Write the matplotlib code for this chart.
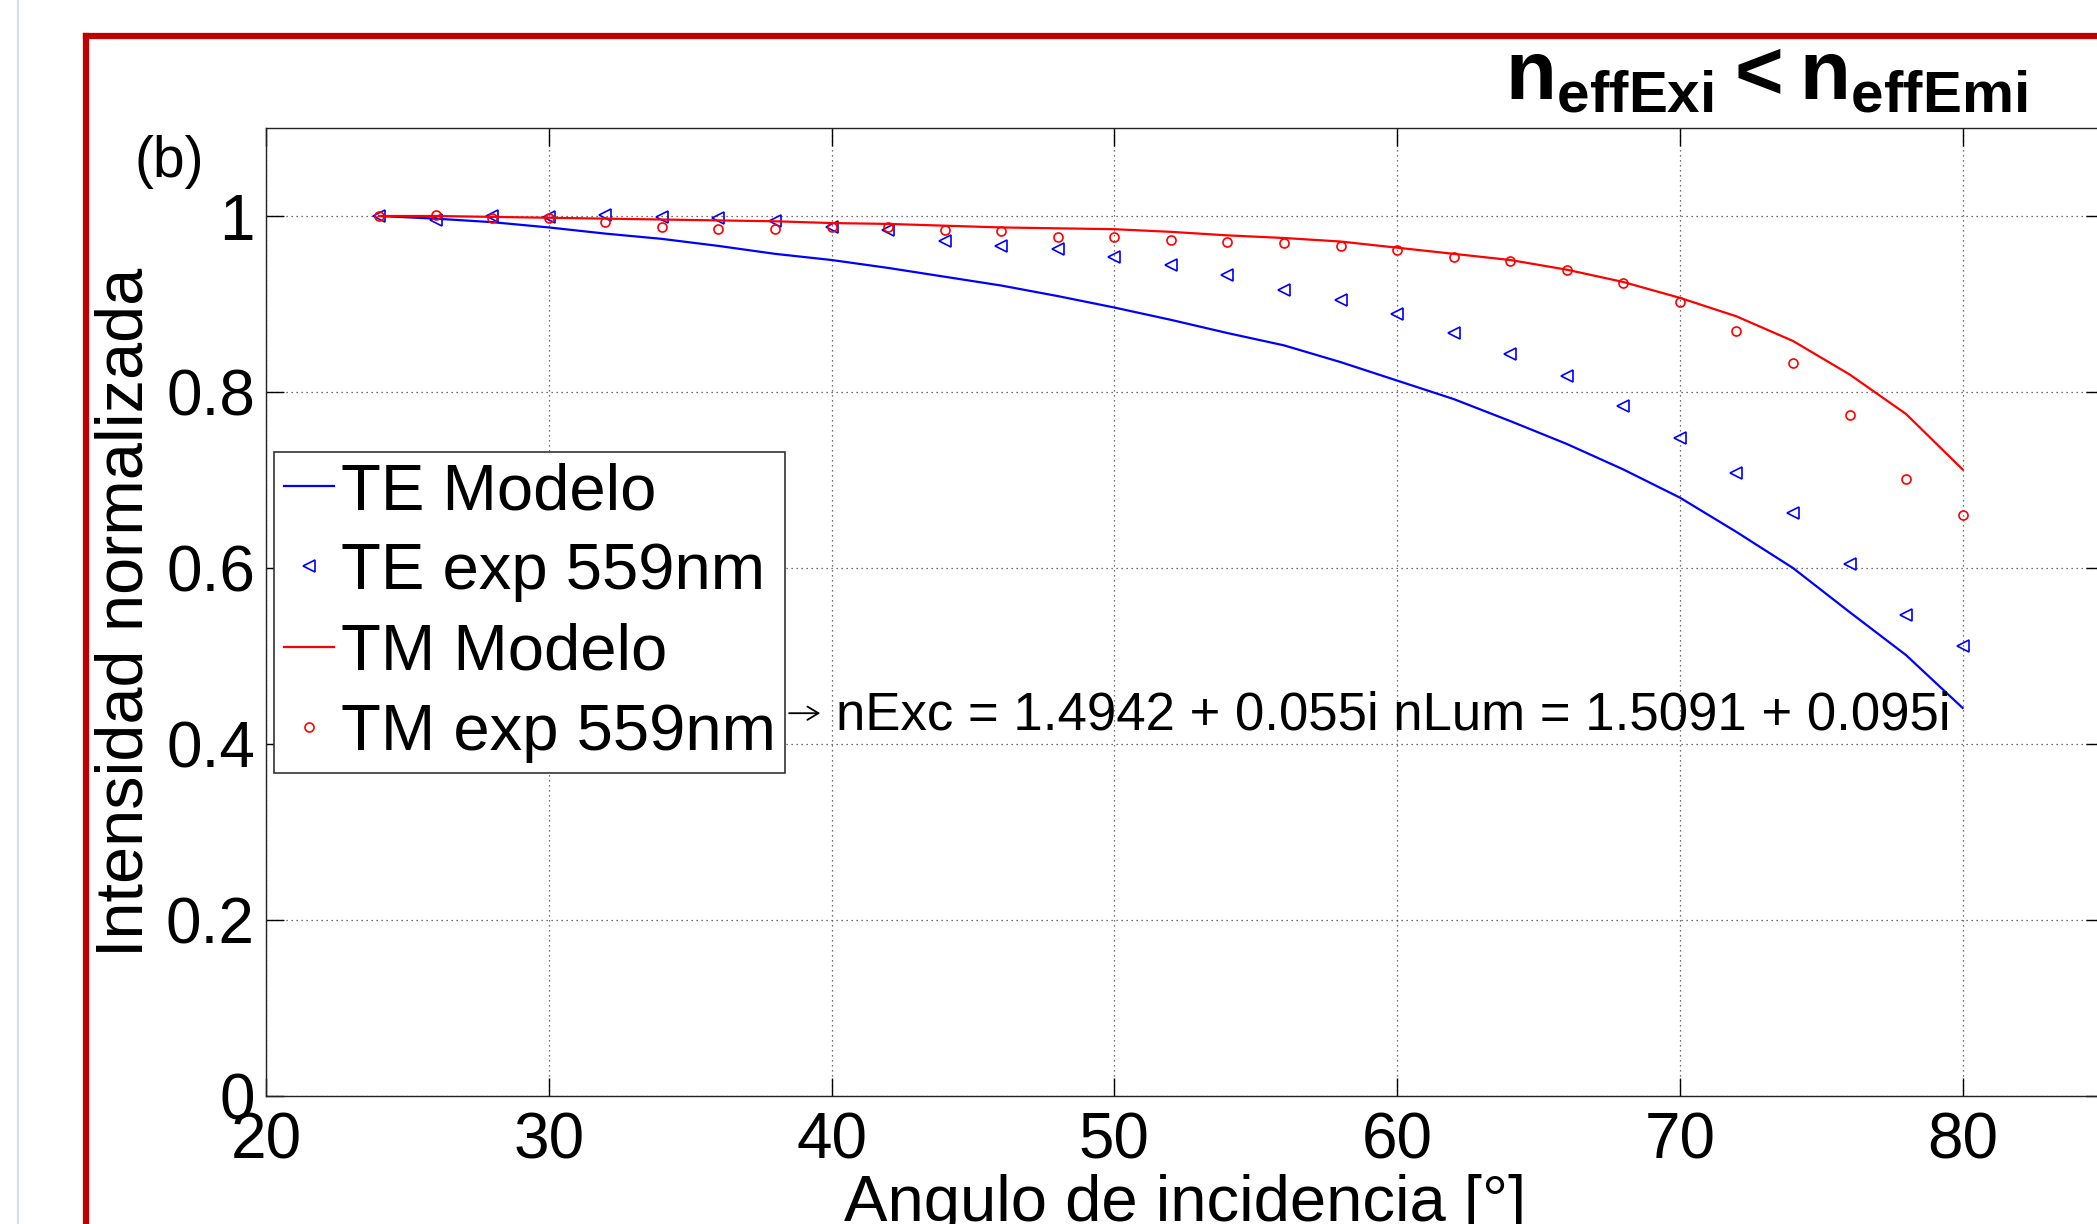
import matplotlib
matplotlib.use('Agg')
import matplotlib.pyplot as plt
from matplotlib.lines import Line2D

# --- data ---
angles = [24, 26, 28, 30, 32, 34, 36, 38, 40, 42, 44, 46, 48, 50, 52,
          54, 56, 58, 60, 62, 64, 66, 68, 70, 72, 74, 76, 78, 80]

te_model = [1.000, 0.997, 0.993, 0.987, 0.980, 0.974, 0.966, 0.957, 0.950, 0.941,
            0.931, 0.921, 0.909, 0.896, 0.882, 0.867, 0.853, 0.834, 0.813, 0.792,
            0.767, 0.741, 0.712, 0.680, 0.641, 0.600, 0.550, 0.501, 0.441]
te_exp = [1.000, 0.996, 1.000, 0.999, 1.001, 0.999, 0.998, 0.994, 0.988, 0.984,
          0.972, 0.966, 0.962, 0.953, 0.944, 0.933, 0.916, 0.904, 0.889, 0.867,
          0.843, 0.818, 0.784, 0.748, 0.708, 0.662, 0.604, 0.547, 0.511]
tm_model = [1.000, 1.000, 0.999, 0.998, 0.997, 0.996, 0.995, 0.994, 0.992, 0.991,
            0.989, 0.987, 0.986, 0.985, 0.982, 0.978, 0.975, 0.971, 0.964, 0.957,
            0.950, 0.939, 0.925, 0.907, 0.886, 0.858, 0.820, 0.775, 0.712]
tm_exp = [1.000, 1.001, 0.998, 0.998, 0.993, 0.988, 0.985, 0.985, 0.988, 0.988,
          0.984, 0.983, 0.976, 0.976, 0.973, 0.971, 0.969, 0.966, 0.961, 0.953,
          0.949, 0.939, 0.924, 0.902, 0.869, 0.833, 0.774, 0.701, 0.660]

labels = ['TE Modelo', 'TE exp 559nm', 'TM Modelo', 'TM exp 559nm']
xticks = [20, 30, 40, 50, 60, 70, 80]
yticks = [0, 0.2, 0.4, 0.6, 0.8, 1]
note = 'nExc = 1.4942 + 0.055i nLum = 1.5091 + 0.095i'

plt.rcParams['font.family'] = ['Liberation Sans', 'DejaVu Sans']
plt.rcParams['mathtext.fontset'] = 'custom'
plt.rcParams['mathtext.bf'] = 'Liberation Sans:bold'
plt.rcParams['mathtext.rm'] = 'Liberation Sans'

W, H = 2097, 1224
fig = plt.figure(figsize=(W / 100, H / 100), dpi=100)
fig.patch.set_facecolor('white')

# axes position in pixels (right edge slightly outside the picture, as in the reference)
ax = fig.add_axes([266 / W, 128 / H, (2104 - 266) / W, (1096 - 128) / H])

ax.plot(angles, te_model, color='#0000ff', lw=1.6, label=labels[0])
ax.plot(angles, te_exp, ls='none', marker='<', ms=8.5, mfc='none', mec='#0000ff',
        mew=1.2, label=labels[1])
ax.plot(angles, tm_model, color='#ff0000', lw=1.6, label=labels[2])
ax.plot(angles, tm_exp, ls='none', marker='o', ms=6.5, mfc='none', mec='#ff0000',
        mew=1.2, label=labels[3])

ax.set_xlim(20, 85)
ax.set_ylim(0, 1.1)
ax.set_xticks(xticks)
ax.set_yticks(yticks)
ax.set_yticklabels(['0', '0.2', '0.4', '0.6', '0.8', '1'])
ax.grid(True, color='#444444', ls=(0, (1, 3)), lw=0.9)
ax.tick_params(direction='in', length=13, width=1, labelsize=46, top=True, right=True)
ax.tick_params(axis='x', pad=11)
ax.tick_params(axis='y', pad=8)
for s in ax.spines.values():
    s.set_linewidth(1.0)
    s.set_color('#222222')

ax.set_xlabel('Angulo de incidencia [°]', fontsize=47, labelpad=2)
ax.set_ylabel('Intensidad normalizada', fontsize=48, labelpad=7)

leg = ax.legend(loc='upper left', bbox_to_anchor=(0.0044, 0.665), fontsize=47,
                borderaxespad=0, borderpad=0.15, labelspacing=0.31,
                handlelength=0.77, handletextpad=0.1, fancybox=False,
                framealpha=1, edgecolor='#333333')
leg.get_frame().set_linewidth(1.2)

ax.annotate('', xy=(39.6, 0.435), xytext=(38.5, 0.435),
            arrowprops=dict(arrowstyle='->, head_length=0.5, head_width=0.3',
                            mutation_scale=16, lw=1.3, color='black',
                            shrinkA=0, shrinkB=0))
ax.text(40.16, 0.416, note, fontsize=38, ha='left', va='baseline')

fig.text(2027 / W, 1 - 100 / H,
         r'$\mathbf{n}_{\mathbf{effExi}} \mathbf{<} \mathbf{n}_{\mathbf{effEmi}}$',
         fontsize=60, ha='right', va='baseline')
fig.text(134 / W, 1 - 135 / H, '(b)', fontsize=41, ha='left', va='top')

# slide frame around the figure
fig.add_artist(Line2D([85.5 / W, 85.5 / W], [-0.1, 1 - 35.5 / H], transform=fig.transFigure,
                      color='#c00000', lw=4.5, solid_capstyle='projecting'))
fig.add_artist(Line2D([85.5 / W, 1.1], [1 - 35.5 / H, 1 - 35.5 / H], transform=fig.transFigure,
                      color='#c00000', lw=4.5, solid_capstyle='projecting'))
fig.add_artist(Line2D([18 / W, 18 / W], [0, 1], transform=fig.transFigure,
                      color='#d5dfea', lw=1.5))

fig.savefig('out.png', dpi=100)
